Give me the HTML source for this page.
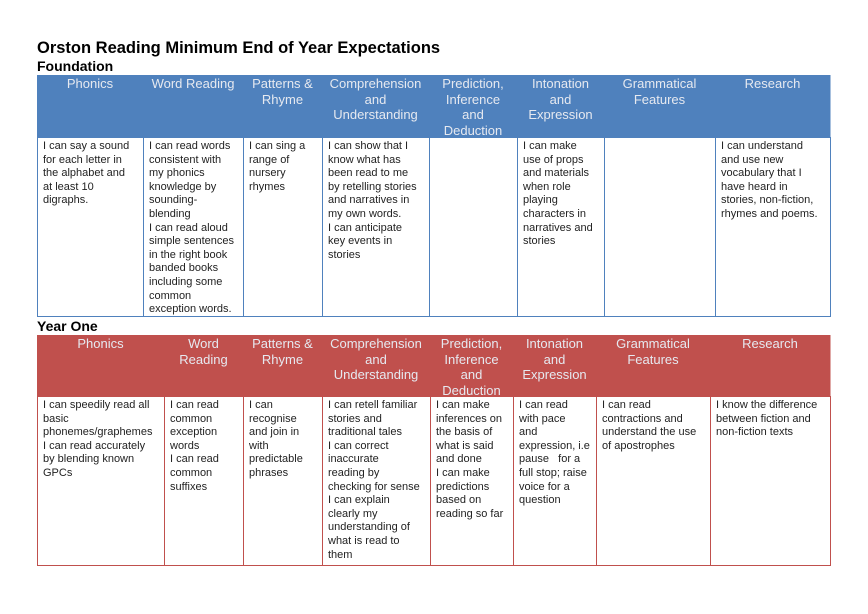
<!DOCTYPE html>
<html><head><meta charset="utf-8"><style>
body{margin:0;width:868px;height:614px;background:#fff;position:relative;font-family:"Liberation Sans",sans-serif;overflow:hidden}
.t{position:absolute;font-weight:bold;color:#000}
.c{position:absolute;box-sizing:border-box;font-size:11px;line-height:13.6px;color:#222;padding:2px 5px}
.h{position:absolute;box-sizing:border-box;font-size:13px;line-height:15.5px;color:#e6e9f0;text-align:center;padding:1px 3px}
.b{background:#4f81bd}.r{background:#c0504d}
.bl{border:1px solid #4f81bd}.rl{border:1px solid #c0504d}
</style></head><body>
<div class="t" style="left:37px;top:39px;font-size:16.5px">Orston Reading Minimum End of Year Expectations</div>
<div class="t" style="left:37px;top:58px;font-size:14px">Foundation</div>
<div class="t" style="left:37px;top:318px;font-size:14px">Year One</div>
<div id="f"></div><div id="y"></div>
<script>
function build(xs,top,hh,bh,cls,lc,heads,bodies){
let s='';
for(let i=0;i<8;i++){
let l=xs[i],w=xs[i+1]-xs[i]+1;
s+=`<div class="h ${cls}" style="left:${l}px;top:${top}px;width:${w}px;height:${hh}px;border-right:1px solid rgba(255,255,255,.5)">${heads[i]}</div>`;
s+=`<div class="c ${lc}" style="left:${l}px;top:${top+hh}px;width:${w}px;height:${bh}px">${bodies[i]}</div>`;
}
return s;}
const heads=['Phonics','Word Reading','Patterns &amp;<br>Rhyme','Comprehension<br>and<br>Understanding','Prediction,<br>Inference<br>and<br>Deduction','Intonation<br>and<br>Expression','Grammatical<br>Features','Research'];
document.getElementById('f').innerHTML=build([37,143,243,322,429,517,604,715,830],75,62,180,'b','bl',heads,[
'I can say a sound<br>for each letter in<br>the alphabet and<br>at least 10<br>digraphs.',
'I can read words<br>consistent with<br>my phonics<br>knowledge by<br>sounding-<br>blending<br>I can read aloud<br>simple sentences<br>in the right book<br>banded books<br>including some<br>common<br>exception words.',
'I can sing a<br>range of<br>nursery<br>rhymes',
'I can show that I<br>know what has<br>been read to me<br>by retelling stories<br>and narratives in<br>my own words.<br>I can anticipate<br>key events in<br>stories',
'',
'I can make<br>use of props<br>and materials<br>when role<br>playing<br>characters in<br>narratives and<br>stories',
'',
'I can understand<br>and use new<br>vocabulary that I<br>have heard in<br>stories, non-fiction,<br>rhymes and poems.']);
const heads2=heads.slice();heads2[1]='Word<br>Reading';
document.getElementById('y').innerHTML=build([37,164,243,322,430,513,596,710,830],335,61,170,'r','rl',heads2,[
'I can speedily read all<br>basic<br>phonemes/graphemes<br>I can read accurately<br>by blending known<br>GPCs',
'I can read<br>common<br>exception<br>words<br>I can read<br>common<br>suffixes',
'I can<br>recognise<br>and join in<br>with<br>predictable<br>phrases',
'I can retell familiar<br>stories and<br>traditional tales<br>I can correct<br>inaccurate<br>reading by<br>checking for sense<br>I can explain<br>clearly my<br>understanding of<br>what is read to<br>them',
'I can make<br>inferences on<br>the basis of<br>what is said<br>and done<br>I can make<br>predictions<br>based on<br>reading so far',
'I can read<br>with pace<br>and<br>expression, i.e<br>pause &nbsp; for a<br>full stop; raise<br>voice for a<br>question',
'I can read<br>contractions and<br>understand the use<br>of apostrophes',
'I know the difference<br>between fiction and<br>non-fiction texts']);
</script>
</body></html>
